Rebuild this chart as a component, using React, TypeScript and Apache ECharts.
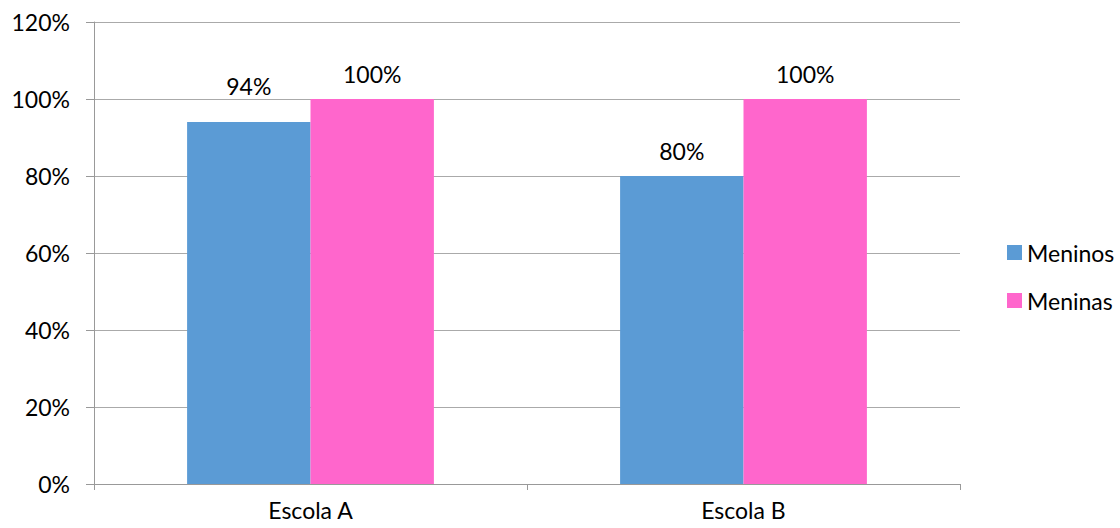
import React, { useEffect, useRef } from "react";
import * as echarts from "echarts";

const categories = ["Escola A", "Escola B"];
const meninos = [94, 80];
const meninas = [100, 100];
const seriesNames = ["Meninos", "Meninas"];

export default function App() {
  const ref = useRef<HTMLDivElement>(null);
  useEffect(() => {
    if (!ref.current) return;
    const chart = echarts.init(ref.current, undefined, { renderer: "svg" });
    const font = "Lato, 'Open Sans', sans-serif";
    const fs = 23;
    const labelBase = {
      show: true,
      position: "top" as const,
      distance: 14,
      formatter: (p: any) => p.value + "%",
      color: "#000",
      fontSize: fs,
      fontFamily: font,
    };
    chart.setOption({
      animation: false,
      backgroundColor: "#fff",
      grid: { left: 94, right: 160, top: 22, bottom: 44, containLabel: false },
      legend: {
        orient: "vertical",
        left: 1002,
        top: 236,
        itemWidth: 15,
        itemHeight: 15,
        itemGap: 25,
        icon: "rect",
        textStyle: { fontSize: fs, fontFamily: font, color: "#000" },
        data: seriesNames,
      },
      xAxis: {
        type: "category",
        data: categories,
        axisLine: { show: true, lineStyle: { color: "#999", width: 1 } },
        axisTick: { show: true, length: 6, lineStyle: { color: "#999" } },
        axisLabel: { fontSize: fs, fontFamily: font, color: "#000", margin: 14 },
      },
      yAxis: {
        type: "value",
        min: 0,
        max: 120,
        interval: 20,
        axisLine: { show: true, lineStyle: { color: "#999", width: 1 } },
        axisTick: { show: true, length: 8, lineStyle: { color: "#999" } },
        splitLine: { show: true, lineStyle: { color: "#aaa", width: 1 } },
        axisLabel: {
          fontSize: fs,
          fontFamily: font,
          color: "#000",
          margin: 24,
          formatter: (v: number) => v + "%",
        },
      },
      series: [
        {
          name: seriesNames[0],
          type: "bar",
          data: meninos.map((v, i) =>
            i === 0 ? { value: v, label: { offset: [0, -11] } } : v
          ),
          itemStyle: { color: "#5B9BD5" },
          barGap: "0%",
          barCategoryGap: "43%",
          label: labelBase,
        },
        {
          name: seriesNames[1],
          type: "bar",
          data: meninas,
          itemStyle: { color: "#FF66CC" },
          barGap: "0%",
          barCategoryGap: "43%",
          label: labelBase,
        },
      ],
    });
    return () => chart.dispose();
  }, []);
  return (
    <div
      ref={ref}
      style={{ position: "fixed", left: 0, top: 0, width: 1120, height: 528 }}
    />
  );
}
